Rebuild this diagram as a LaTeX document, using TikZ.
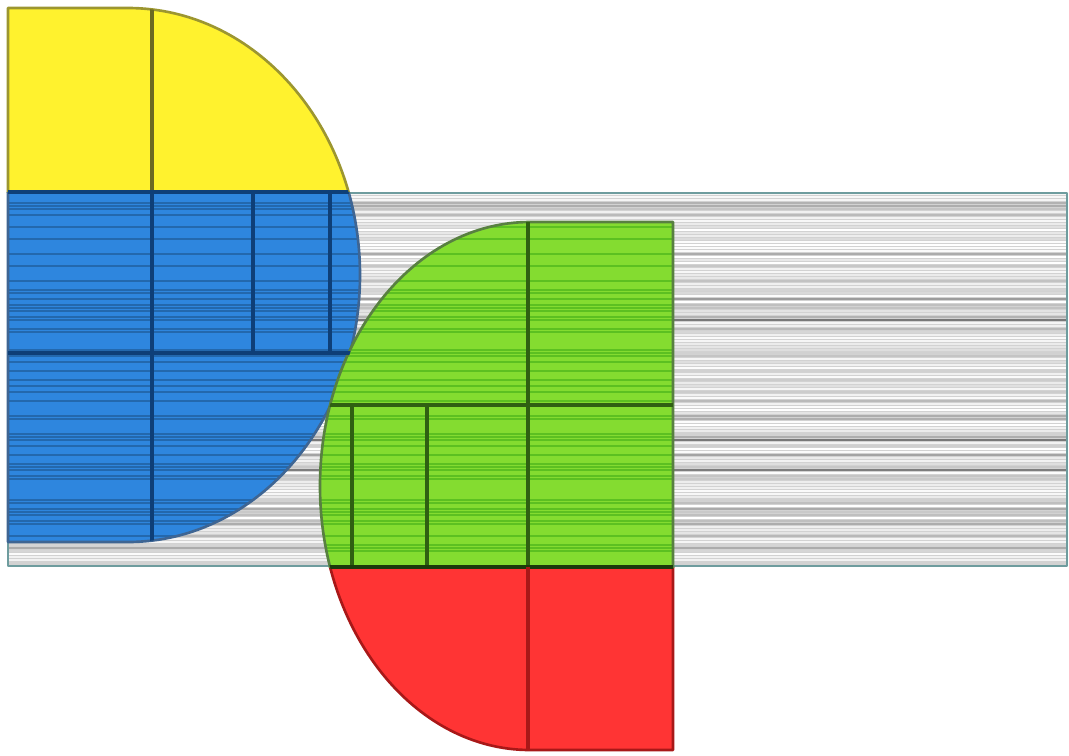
\documentclass[tikz,border=0pt]{standalone}
\usepackage{tikz}

\definecolor{bandgray}{HTML}{D2D2D2}
\definecolor{bandedge}{HTML}{6E9C9E}
\definecolor{ylwfill}{HTML}{FFF22E}
\definecolor{ylwline}{HTML}{9C9630}
\definecolor{bluefill}{HTML}{2E86DE}
\definecolor{blueline}{HTML}{0E3F78}
\definecolor{grnfill}{HTML}{84DC30}
\definecolor{grnline}{HTML}{2F6012}
\definecolor{redfill}{HTML}{FF3434}
\definecolor{redline}{HTML}{A81818}

\tikzset{
  edge/.style={line width=1.5pt},
  split/.style={line width=2.1pt},
}

% 左侧半椭圆 (黄+蓝) 与 右侧半椭圆 (绿+红)
\def\leftshape{(8,8) -- (128,8) arc[start angle=-90, end angle=90, x radius=232, y radius=267] -- (8,542) -- cycle}
\def\rightshape{(673,222) -- (530,222) arc[start angle=-90, end angle=-270, x radius=210, y radius=264] -- (673,750) -- cycle}

\begin{document}
\begin{tikzpicture}[x=0.02cm, y=-0.02cm, line join=round]
  \useasboundingbox (0,0) rectangle (1069,755);

  % 1. 灰色条带 (最底层)
  \fill[bandgray] (8,193) rectangle (1067,566);
  \pgfmathsetseed{42}
  \foreach \i in {0,...,122}{
    \pgfmathsetmacro\s{int(55*rnd*rnd)}
    \draw[black!\s, line width=1pt] (8,194+3*\i) -- (1067,194+3*\i);
  }
  \draw[bandedge, edge] (8,193) rectangle (1067,566);

  % 2. 左侧: 黄色上部, 蓝色下部
  \begin{scope}
    \clip (0,0) rectangle (1069,192);
    \fill[ylwfill] \leftshape;
    \draw[ylwline, edge] \leftshape;
  \end{scope}
  \begin{scope}
    \clip (0,192) rectangle (1069,755);
    \fill[bluefill] \leftshape;
  \end{scope}
  % 蓝色上的暗条纹
  \begin{scope}
    \clip (8,193) rectangle (1067,566);
    \clip \leftshape;
    \pgfmathsetseed{42}
    \foreach \i in {0,...,122}{
      \pgfmathsetmacro\s{int(55*rnd*rnd)}
      \ifnum\s>10
        \draw[black, opacity=0.22, line width=1pt] (8,194+3*\i) -- (370,194+3*\i);
      \fi
    }
  \end{scope}
  \begin{scope}
    \clip (0,192) rectangle (1069,755);
    \draw[blueline!80, edge] \leftshape;
  \end{scope}

  % 3. 右侧: 绿色上部, 红色下部
  \begin{scope}
    \clip (0,0) rectangle (1069,567);
    \fill[grnfill] \rightshape;
  \end{scope}
  \begin{scope}
    \clip (0,567) rectangle (1069,755);
    \fill[redfill] \rightshape;
    \draw[redline, edge] \rightshape;
  \end{scope}
  % 绿色上的暗条纹
  \begin{scope}
    \clip (8,193) rectangle (1067,566);
    \clip \rightshape;
    \pgfmathsetseed{42}
    \foreach \i in {0,...,122}{
      \pgfmathsetmacro\s{int(55*rnd*rnd)}
      \ifnum\s>10
        \draw[black!50!green, opacity=0.3, line width=1pt] (310,194+3*\i) -- (673,194+3*\i);
      \fi
    }
  \end{scope}
  \begin{scope}
    \clip (0,0) rectangle (1069,567);
    \draw[grnline!80, edge] \rightshape;
  \end{scope}

  % 4. 分隔线
  \begin{scope}
    \clip \leftshape;
    \draw[ylwline!70!black, split] (152,8) -- (152,192);
    \draw[blueline, split] (8,192) -- (400,192);
    \draw[blueline, split] (152,192) -- (152,560);
    \draw[blueline, split] (8,353) -- (400,353);
    \draw[blueline, split] (253,192) -- (253,353);
    \draw[blueline, split] (330,192) -- (330,353);
  \end{scope}

  \begin{scope}
    \clip \rightshape;
    \draw[grnline, split] (528,222) -- (528,567);
    \draw[grnline, split] (300,405) -- (673,405);
    \draw[grnline, split] (352,405) -- (352,567);
    \draw[grnline, split] (427,405) -- (427,567);
    \draw[grnline!60!black, split] (300,567) -- (673,567);
    \draw[redline, split] (528,567) -- (528,750);
  \end{scope}
\end{tikzpicture}
\end{document}
